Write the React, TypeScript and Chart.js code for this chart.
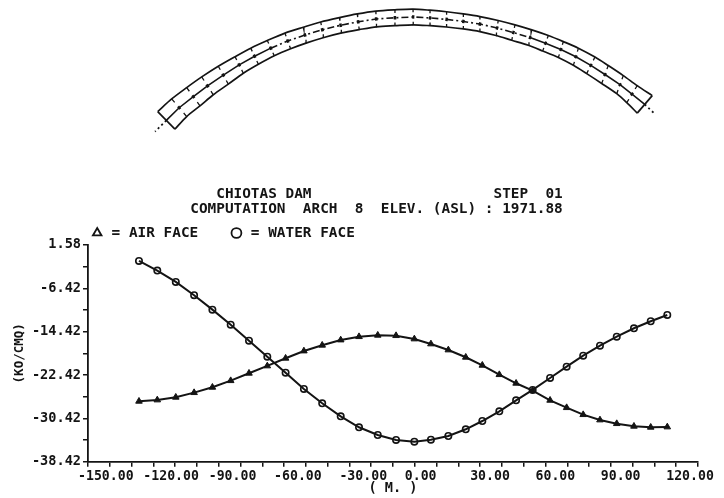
import React, { useEffect, useRef } from "react";
import { Chart, registerables } from "chart.js";

Chart.register(...registerables);

const INK = "#141414";
const FONT = "'DejaVu Sans Mono', monospace";

const titleLines = [
  "   CHIOTAS DAM                     STEP  01",
  "COMPUTATION  ARCH  8  ELEV. (ASL) : 1971.88",
];
const airLabel = "= AIR FACE";
const waterLabel = "= WATER FACE";
const xTitle = "( M. )";
const yTitle = "(KO/CMQ)";

const yTicks = [1.58, -2.42, -6.42, -10.42, -14.42, -18.42, -22.42, -26.42, -30.42, -34.42, -38.42];
const yTickLabels = ["1.58", "", "-6.42", "", "-14.42", "", "-22.42", "", "-30.42", "", "-38.42"];

const stations = [
  -126.6, -118.2, -109.7, -101.3, -92.9, -84.5, -76.1, -67.7, -59.3, -50.9, -42.5, -34.0, -25.6, -17.0, -8.6, -0.2,
  7.4, 15.4, 23.4, 31.0, 38.8, 46.5, 54.1, 62.1, 69.7, 77.3, 85.0, 92.7, 100.6, 108.3, 115.9,
];
const waterFace = [
  -1.37, -3.16, -5.25, -7.7, -10.36, -13.13, -16.09, -19.04, -21.99, -25.0, -27.64, -30.04, -32.07, -33.49, -34.41,
  -34.73, -34.36, -33.68, -32.44, -30.91, -29.12, -27.09, -25.18, -22.97, -20.88, -18.85, -17.01, -15.35, -13.8, -12.5,
  -11.34,
];
const airFace = [
  -27.27, -27.03, -26.53, -25.68, -24.69, -23.47, -22.1, -20.75, -19.33, -17.99, -16.93, -15.96, -15.35, -15.09, -15.16,
  -15.77, -16.69, -17.8, -19.15, -20.63, -22.36, -23.95, -25.31, -27.09, -28.45, -29.74, -30.72, -31.4, -31.88, -32.07,
  -32.01,
];

// Arch plan, in metres
const archOuterX = [
  -118.0, -111.6, -104.7, -97.8, -90.2, -82.5, -75.3, -67.7, -59.6, -51.2, -43.2, -34.6, -26.4, -17.9, -9.1, -0.8, 7.0,
  14.6, 22.3, 29.9, 38.3, 46.0, 53.7, 61.3, 68.2, 75.1, 82.7, 88.8, 95.7, 102.1, 109.0,
];
const archOuterY = [
  61.2, 67.0, 72.2, 77.1, 82.0, 86.4, 90.3, 93.8, 97.2, 99.9, 102.3, 104.3, 106.0, 107.3, 107.9, 108.2, 107.7, 107.0,
  106.0, 104.8, 103.0, 101.0, 98.7, 96.1, 93.3, 90.3, 86.2, 82.3, 77.7, 73.1, 68.5,
];
const archInnerX = [
  -110.1, -104.7, -98.6, -92.5, -85.6, -78.7, -71.8, -64.5, -57.0, -49.6, -41.7, -33.5, -25.5, -17.5, -9.1, -0.7, 7.0,
  14.6, 22.3, 29.9, 37.3, 44.5, 52.1, 58.7, 65.9, 72.8, 78.9, 85.8, 92.7, 97.3, 102.1,
];
const archInnerY = [
  53.1, 58.9, 63.8, 68.9, 73.8, 78.8, 82.9, 86.8, 90.0, 92.7, 95.2, 97.3, 98.8, 100.1, 100.6, 101.0, 100.6, 100.0, 99.1,
  97.9, 96.1, 93.9, 91.6, 89.0, 86.0, 82.4, 78.6, 74.1, 69.4, 65.3, 60.5,
];
const tailLeft = { x: -119.2, y: 52.0 };
const tailRight = { x: 110.3, y: 60.0 };

const zip = (xs: number[], ys: number[]) => xs.map((x, i) => ({ x, y: ys[i] }));
const outer = zip(archOuterX, archOuterY);
const inner = zip(archInnerX, archInnerY);
const centre = outer.map((p, i) => ({ x: (p.x + inner[i].x) / 2, y: (p.y + inner[i].y) / 2 }));
const tick = (edge: { x: number; y: number }[], f: number) =>
  edge.flatMap((p, i) =>
    i === 0 || i === edge.length - 1
      ? []
      : [p, { x: p.x + (centre[i].x - p.x) * f, y: p.y + (centre[i].y - p.y) * f }, { x: NaN, y: NaN }]
  );
const dots = centre.flatMap((p, i) => {
  if (i === 0 || i === centre.length - 1) return [];
  const d = centre[i + 1];
  const ux = (d.x - p.x) / 8.4;
  const uy = (d.y - p.y) / 8.4;
  return [{ x: p.x - ux * 0.6, y: p.y - uy * 0.6 }, { x: p.x + ux * 0.6, y: p.y + uy * 0.6 }, { x: NaN, y: NaN }];
});

const archLine = (data: { x: number; y: number }[], extra: object = {}) => ({
  type: "line" as const,
  data,
  xAxisID: "x",
  yAxisID: "archY",
  borderColor: INK,
  backgroundColor: INK,
  borderWidth: 1.7,
  pointRadius: 0,
  clip: false,
  spanGaps: false,
  tension: 0,
  ...extra,
});

const placeBlocks = {
  id: "placeBlocks",
  afterLayout(chart: any) {
    if (chart.titleBlock) {
      chart.titleBlock.left = 29;
      chart.titleBlock.right = 724;
      chart.titleBlock.top = 186.4;
    }
    if (chart.legend) {
      chart.legend.left = 59;
      chart.legend.right = 724;
      chart.legend.top = 194.8;
    }
  },
};

export default function App() {
  const ref = useRef<HTMLCanvasElement>(null);
  useEffect(() => {
    const chart = new Chart(ref.current as HTMLCanvasElement, {
      type: "line",
      data: {
        datasets: [
          {
            label: airLabel,
            data: zip(stations, airFace),
            borderColor: INK,
            backgroundColor: INK,
            borderWidth: 2,
            pointStyle: "triangle",
            pointRadius: 3.8,
            pointBackgroundColor: INK,
            pointBorderColor: INK,
            pointBorderWidth: 1,
            tension: 0,
          },
          {
            label: waterLabel,
            data: zip(stations, waterFace),
            borderColor: INK,
            backgroundColor: "rgba(0,0,0,0)",
            borderWidth: 2,
            pointStyle: "circle",
            pointRadius: 3.2,
            pointBackgroundColor: "rgba(0,0,0,0)",
            pointBorderColor: INK,
            pointBorderWidth: 1.6,
            tension: 0,
          },
          archLine(outer, { tension: 0.3 }),
          archLine(inner, { tension: 0.3 }),
          archLine([outer[0], inner[0]]),
          archLine([outer[30], inner[30]]),
          archLine(centre, {
            borderWidth: 1.6,
            segment: {
              borderDash: (c: any) => (c.p0DataIndex >= 7 && c.p0DataIndex < 22 ? [7, 3, 2, 3] : undefined),
            },
          }),
          archLine([centre[0], tailLeft], { borderDash: [2, 3], borderWidth: 1.8 }),
          archLine([centre[30], tailRight], { borderDash: [2, 3], borderWidth: 1.8 }),
          archLine(tick(outer, 0.4), { borderWidth: 1.3 }),
          archLine(tick(inner, 0.4), { borderWidth: 1.3 }),
          archLine(dots, { borderWidth: 3.4 }),
        ] as any,
      },
      plugins: [placeBlocks],
      options: {
        responsive: false,
        animation: false,
        layout: { autoPadding: false, padding: { top: 159, left: 0, right: 26, bottom: 0 } },
        plugins: {
          tooltip: { enabled: false },
          title: {
            display: true,
            text: titleLines,
            color: INK,
            padding: 0,
            font: { family: FONT, size: 14.4, weight: "bold", lineHeight: 1.06 },
          },
          legend: {
            display: true,
            align: "start",
            labels: {
              usePointStyle: true,
              boxHeight: 7,
              boxWidth: 14.4,
              padding: 31,
              color: INK,
              font: { family: FONT, size: 14.4, weight: "bold" },
              filter: (item: any) => item.datasetIndex < 2,
              generateLabels: (c: any) =>
                Chart.defaults.plugins.legend.labels.generateLabels(c).map((it: any) => ({
                  ...it,
                  fillStyle: "rgba(0,0,0,0)",
                  strokeStyle: INK,
                  lineWidth: 1.8,
                })),
            },
          },
        },
        scales: {
          x: {
            type: "linear",
            min: -150,
            max: 130,
            afterFit: (s: any) => {
              s.height = 36.3;
            },
            border: { display: true, color: INK, width: 1.8 },
            grid: { drawOnChartArea: false, drawTicks: true, tickLength: 5, color: INK, lineWidth: 1.5 },
            ticks: {
              stepSize: 10,
              autoSkip: false,
              maxRotation: 0,
              minRotation: 0,
              align: "start",
              labelOffset: -10,
              padding: 2,
              color: INK,
              font: { family: FONT, size: 13.2, weight: "bold" },
              callback: (v: any) => (Number(v) % 30 === 0 ? Number(v).toFixed(2) : ""),
            },
            title: {
              display: true,
              text: xTitle,
              color: INK,
              padding: { top: 0, bottom: 1 },
              font: { family: FONT, size: 13.6, weight: "bold" },
            },
          },
          y: {
            type: "linear",
            min: -38.42,
            max: 1.58,
            afterFit: (s: any) => {
              s.width = 88;
            },
            afterBuildTicks: (s: any) => {
              s.ticks = yTicks.map((value) => ({ value }));
            },
            border: { display: true, color: INK, width: 1.8 },
            grid: { drawOnChartArea: false, drawTicks: true, tickLength: 5, color: INK, lineWidth: 1.5 },
            ticks: {
              autoSkip: false,
              padding: 2,
              color: INK,
              font: { family: FONT, size: 13.6, weight: "bold" },
              callback: (v: any) => yTickLabels[yTicks.indexOf(Number(v))] ?? "",
            },
            title: {
              display: true,
              text: yTitle,
              color: INK,
              padding: { top: 12, bottom: 0 },
              font: { family: FONT, size: 12.5, weight: "bold" },
            },
          },
          archY: { type: "linear", display: false, min: -99.47, max: 0 },
        },
      },
    } as any);
    return () => chart.destroy();
  }, []);
  return (
    <div style={{ position: "absolute", left: 0, top: 0, width: 724, height: 498, background: "#fff" }}>
      <canvas ref={ref} width={724} height={498} style={{ display: "block" }} />
    </div>
  );
}
